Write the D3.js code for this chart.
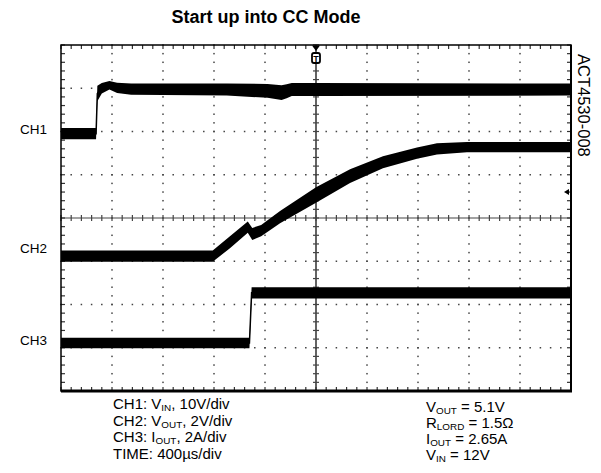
<!DOCTYPE html>
<html>
<head>
<script src="https://d3js.org/d3.v7.min.js"></script>
<style>
  body { margin: 0; background: #fff; }
  text { font-family: "Liberation Sans", Arial, sans-serif; fill: #000; }
</style>
</head>
<body>
<div id="chart"></div>
<script>
// time in µs (400µs/div, trigger at 0), level in screen divisions (0 = centre line)
// each point: [time, level, noise half-band]
var ch1 = [
  [-2000, 1.95, 0.13], [-1725, 1.95, 0.13], [-1715, 2.88, 0.18],
  [-1680, 3.00, 0.12], [-1620, 3.07, 0.10], [-1560, 3.01, 0.12],
  [-1450, 2.98, 0.13], [-700, 2.97, 0.14], [-380, 2.94, 0.16],
  [-270, 2.90, 0.17], [-230, 2.93, 0.16], [-190, 2.97, 0.15],
  [0, 2.97, 0.15], [2000, 2.97, 0.14]
];
var ch2 = [
  [-2000, -0.88, 0.13], [-810, -0.88, 0.13], [-675, -0.56, 0.14],
  [-535, -0.21, 0.13], [-500, -0.37, 0.14], [-430, -0.29, 0.13],
  [-282, 0.02, 0.14], [0, 0.53, 0.18], [267, 0.97, 0.16],
  [525, 1.29, 0.14], [792, 1.50, 0.13], [949, 1.60, 0.13],
  [1184, 1.64, 0.12], [2000, 1.64, 0.12]
];
var ch3 = [
  [-2000, -2.89, 0.12], [-522, -2.89, 0.12], [-505, -1.73, 0.13],
  [2000, -1.73, 0.13]
];
var chLabels = ["CH1", "CH2", "CH3"];
var chMarks = [2.05, -0.70, -2.82];   // level where each label sits
var trigTime = 0, trigLevel = 0.6;

var setupLines = ["CH1: V_{IN}, 10V/div", "CH2: V_{OUT}, 2V/div", "CH3: I_{OUT}, 2A/div", "TIME: 400µs/div"];
var condLines = ["V_{OUT} = 5.1V", "R_{LORD} = 1.5Ω", "I_{OUT} = 2.65A", "V_{IN} = 12V"];

var width = 601, height = 473;
var svg = d3.select("#chart").append("svg")
  .attr("width", width)
  .attr("height", height);

var x = d3.scaleLinear().domain([-2000, 2000]).range([61, 571]);
var y = d3.scaleLinear().domain([-4, 4]).range([391, 45]);

svg.append("text")
  .attr("x", 266).attr("y", 23)
  .attr("text-anchor", "middle")
  .style("font-weight", "bold")
  .style("font-size", "18px")
  .text("Start up into CC Mode");

var grid = svg.append("g");
var majorX = d3.range(-1600, 1601, 400).filter(function(d) { return d !== 0; });
var majorY = d3.range(-3, 4).filter(function(d) { return d !== 0; });
var minorX = d3.range(-2000, 2001, 80);
var minorY = d3.range(-20, 21).map(function(d) { return d / 5; });

// dotted verticals
majorX.forEach(function(t) {
  grid.selectAll(null).data(minorY).enter().append("rect")
    .attr("x", x(t) - 0.75).attr("y", function(d) { return y(d) - 0.75; })
    .attr("width", 1.5).attr("height", 1.5).attr("fill", "#444");
});
// dotted horizontals
majorY.forEach(function(v) {
  grid.selectAll(null).data(minorX).enter().append("rect")
    .attr("x", function(d) { return x(d) - 0.75; }).attr("y", y(v) - 0.75)
    .attr("width", 1.5).attr("height", 1.5).attr("fill", "#444");
});

// centre lines with ticks
grid.append("line").attr("x1", x(-2000)).attr("x2", x(2000))
  .attr("y1", y(0)).attr("y2", y(0)).attr("stroke", "#444").attr("stroke-width", 1.2);
grid.append("line").attr("x1", x(0)).attr("x2", x(0))
  .attr("y1", y(4)).attr("y2", y(-4)).attr("stroke", "#222").attr("stroke-width", 1.4);
grid.selectAll(null).data(minorX).enter().append("line")
  .attr("x1", function(d) { return x(d); }).attr("x2", function(d) { return x(d); })
  .attr("y1", y(0) - 3).attr("y2", y(0) + 3).attr("stroke", "#444").attr("stroke-width", 1.2);
grid.selectAll(null).data(minorY).enter().append("line")
  .attr("y1", function(d) { return y(d); }).attr("y2", function(d) { return y(d); })
  .attr("x1", x(0) - 3).attr("x2", x(0) + 3).attr("stroke", "#444").attr("stroke-width", 1.2);

// border ticks
[[y(4), 1], [y(-4), -1]].forEach(function(e) {
  grid.selectAll(null).data(minorX).enter().append("line")
    .attr("x1", function(d) { return x(d); }).attr("x2", function(d) { return x(d); })
    .attr("y1", e[0]).attr("y2", e[0] + e[1] * 4).attr("stroke", "#333").attr("stroke-width", 1.2);
});
[[x(-2000), 1], [x(2000), -1]].forEach(function(e) {
  grid.selectAll(null).data(minorY).enter().append("line")
    .attr("y1", function(d) { return y(d); }).attr("y2", function(d) { return y(d); })
    .attr("x1", e[0]).attr("x2", e[0] + e[1] * 4).attr("stroke", "#333").attr("stroke-width", 1.2);
});

// traces
var band = d3.area()
  .x(function(d) { return x(d[0]); })
  .y0(function(d) { return y(d[1] - d[2]); })
  .y1(function(d) { return y(d[1] + d[2]); });
var mid = d3.line()
  .x(function(d) { return x(d[0]); })
  .y(function(d) { return y(d[1]); });

svg.selectAll(".trace").data([ch1, ch2, ch3]).enter().append("g")
  .attr("class", "trace")
  .each(function(d) {
    var g = d3.select(this);
    g.append("path").attr("d", band(d)).attr("fill", "#000");
    g.append("path").attr("d", mid(d)).attr("fill", "none")
      .attr("stroke", "#000").attr("stroke-width", 1.5);
  });

// frame
svg.append("rect")
  .attr("x", x(-2000)).attr("y", y(4))
  .attr("width", x(2000) - x(-2000)).attr("height", y(-4) - y(4))
  .attr("fill", "none").attr("stroke", "#000").attr("stroke-width", 1.5);
svg.append("line").attr("x1", x(-2000)).attr("x2", x(2000) + 1)
  .attr("y1", y(-4)).attr("y2", y(-4)).attr("stroke", "#000").attr("stroke-width", 3);
svg.append("line").attr("x1", x(2000)).attr("x2", x(2000))
  .attr("y1", y(4)).attr("y2", y(-4)).attr("stroke", "#000").attr("stroke-width", 2);

// trigger markers
var tx = x(trigTime);
svg.append("path")
  .attr("d", "M" + (tx - 4) + "," + (y(4) + 0.5) + "L" + (tx + 4) + "," + (y(4) + 0.5) + "L" + tx + "," + (y(4) + 6) + "Z")
  .attr("fill", "#000");
svg.append("rect")
  .attr("x", tx - 4).attr("y", y(4) + 8).attr("width", 8).attr("height", 10).attr("rx", 2)
  .attr("fill", "#fff").attr("stroke", "#000").attr("stroke-width", 1.8);
svg.append("text")
  .attr("x", tx).attr("y", y(4) + 16.5)
  .attr("text-anchor", "middle")
  .style("font-weight", "bold").style("font-size", "9px")
  .text("T");
var ty = y(trigLevel);
svg.append("path")
  .attr("d", "M" + (x(2000) - 7) + "," + ty + "L" + (x(2000) - 2) + "," + (ty - 3) + "L" + (x(2000) - 2) + "," + (ty + 3) + "Z")
  .attr("fill", "#000");

// channel labels
svg.selectAll(".chl").data(chLabels).enter().append("text")
  .attr("class", "chl")
  .attr("x", 47)
  .attr("y", function(d, i) { return y(chMarks[i]) + 5; })
  .attr("text-anchor", "end")
  .style("font-size", "13.5px")
  .text(function(d) { return d; });

svg.append("text")
  .attr("transform", "translate(578,54) rotate(90)")
  .style("font-size", "16.5px")
  .text("ACT4530-008");

// notes with subscripts
function writeLines(lines, x0, y0, dy, size) {
  lines.forEach(function(s, i) {
    var t = svg.append("text").attr("x", x0).attr("y", y0 + i * dy).style("font-size", size + "px");
    var shift = 0;
    s.split(/(_\{[^}]*\})/).forEach(function(part) {
      if (!part) return;
      if (part.charAt(0) === "_") {
        t.append("tspan").attr("dy", 2).style("font-size", (size * 0.66) + "px").text(part.slice(2, -1));
        shift = -2;
      } else {
        t.append("tspan").attr("dy", shift).text(part);
        shift = 0;
      }
    });
  });
}
writeLines(setupLines, 113, 409, 16.5, 15);
writeLines(condLines, 426, 412, 16, 15);
</script>
</body>
</html>
